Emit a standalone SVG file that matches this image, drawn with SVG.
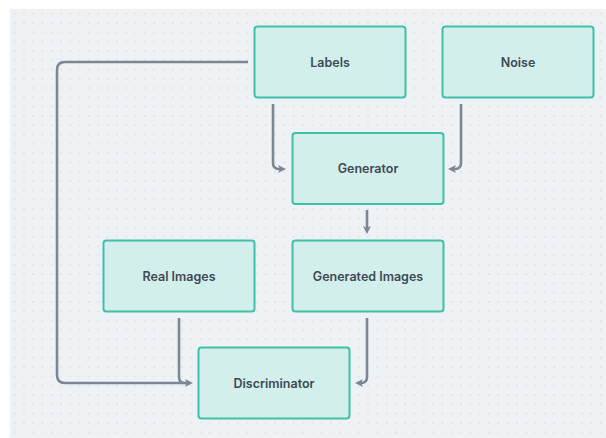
<svg xmlns="http://www.w3.org/2000/svg" width="606" height="438" viewBox="0 0 606 438">
  <defs>
    <pattern id="dots" x="10" y="9" width="9.3" height="9.3" patternUnits="userSpaceOnUse">
      <rect x="4" y="4" width="1.3" height="1.3" fill="#cfd4d9"/>
    </pattern>
    <marker id="arrow" viewBox="0 0 8 8" refX="2" refY="4" markerWidth="8" markerHeight="8" markerUnits="userSpaceOnUse" orient="auto">
      <path d="M0,0 L8,4 L0,8 L2,4 Z" fill="#7a8794"/>
    </marker>
  </defs>
  <style>
    .node rect { fill: #d3efeb; stroke: #3fc0aa; stroke-width: 2; }
    .node text { font-family: Inter, "Noto Sans", "DejaVu Sans", sans-serif; font-size: 12.5px; font-weight: 600; fill: #3d4955; text-anchor: middle; dominant-baseline: central; }
    .edge { fill: none; stroke: #7a8794; stroke-width: 2.6; stroke-linecap: butt; stroke-linejoin: round; }
  </style>

  <!-- canvas -->
  <rect x="0" y="0" width="606" height="438" fill="#ffffff"/>
  <rect x="10" y="9" width="596" height="429" fill="#eff2f5"/>
  <rect x="10" y="9" width="596" height="429" fill="url(#dots)"/>

  <!-- connectors -->
  <g id="connectors">
    <path class="edge" d="M248,62 H65 Q57,62 57,70 V375 Q57,383 65,383 H187" marker-end="url(#arrow)"/>
    <path class="edge" d="M179,318 V377 Q179,383 185,383 H187"/>
    <path class="edge" d="M273,104 V163 Q273,169 279,169 H280" marker-end="url(#arrow)"/>
    <path class="edge" d="M461,104 V163 Q461,169 455,169 H454" marker-end="url(#arrow)"/>
    <path class="edge" d="M367,210 V228" marker-end="url(#arrow)"/>
    <path class="edge" d="M367,318 V377 Q367,383 361,383" marker-end="url(#arrow)"/>
  </g>

  <!-- nodes -->
  <g id="labels" class="node">
    <rect x="254.5" y="26.5" width="151" height="71" rx="3"/>
    <text x="330" y="62">Labels</text>
  </g>
  <g id="noise" class="node">
    <rect x="442.5" y="26.5" width="151" height="71" rx="3"/>
    <text x="518" y="62">Noise</text>
  </g>
  <g id="generator" class="node">
    <rect x="292.5" y="133" width="151" height="71" rx="3"/>
    <text x="368" y="168.5">Generator</text>
  </g>
  <g id="real-images" class="node">
    <rect x="103.5" y="240.5" width="151" height="71" rx="3"/>
    <text x="179" y="276">Real Images</text>
  </g>
  <g id="generated-images" class="node">
    <rect x="292.5" y="240.5" width="151" height="71" rx="3"/>
    <text x="368" y="276">Generated Images</text>
  </g>
  <g id="discriminator" class="node">
    <rect x="198.5" y="347.5" width="151" height="71" rx="3"/>
    <text x="274" y="383">Discriminator</text>
  </g>
</svg>
